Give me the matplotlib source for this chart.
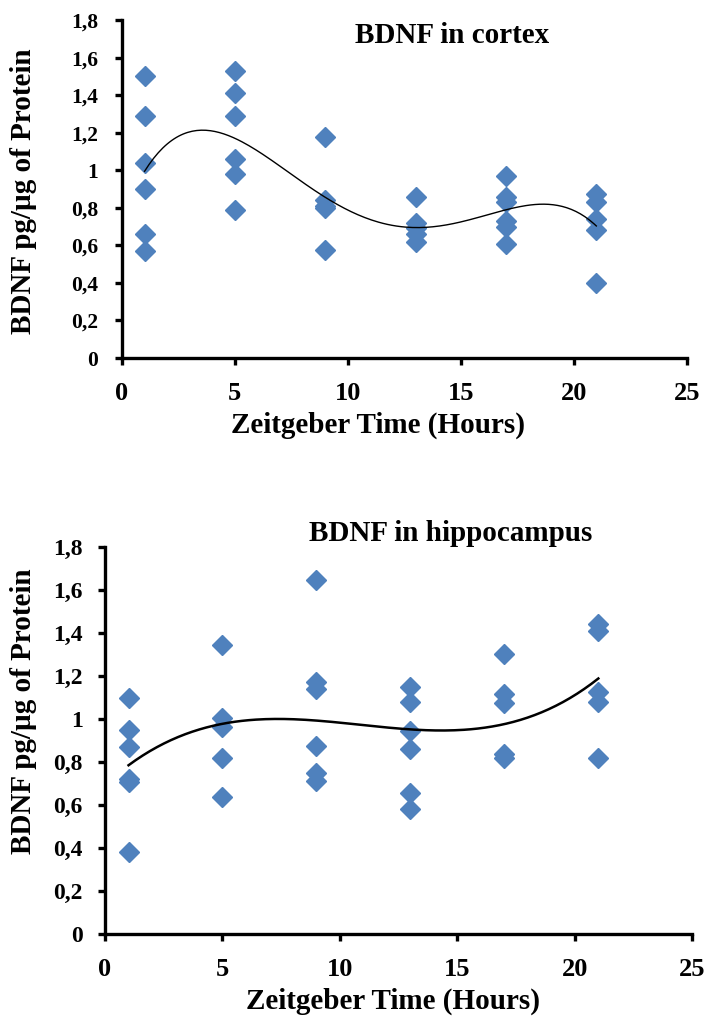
import numpy as np
import matplotlib
matplotlib.use('Agg')
import matplotlib.pyplot as plt
from matplotlib.ticker import FuncFormatter

plt.rcParams['font.family'] = ['Liberation Serif', 'DejaVu Serif']
plt.rcParams['font.weight'] = 'bold'

# Zeitgeber time points (hours)
zt = [1, 5, 9, 13, 17, 21]

# BDNF in cortex (pg/ug protein), one list per time point
cortex = [
    [1.50, 1.29, 1.04, 0.90, 0.66, 0.57],
    [1.53, 1.41, 1.29, 1.06, 0.98, 0.79],
    [1.18, 0.84, 0.81, 0.80, 0.575],
    [0.86, 0.72, 0.69, 0.66, 0.62],
    [0.97, 0.86, 0.83, 0.73, 0.70, 0.61],
    [0.875, 0.83, 0.74, 0.68, 0.40],
]

# BDNF in hippocampus
hippo = [
    [1.095, 0.95, 0.87, 0.72, 0.705, 0.38],
    [1.345, 1.005, 0.96, 0.82, 0.635],
    [1.645, 1.17, 1.14, 0.875, 0.75, 0.71],
    [1.15, 1.08, 0.945, 0.86, 0.655, 0.58],
    [1.30, 1.115, 1.075, 0.835, 0.82],
    [1.44, 1.41, 1.125, 1.08, 0.82],
]

titles = ['BDNF in cortex', 'BDNF in hippocampus']
trend_deg = [4, 3]
y_ticks = [0, 0.2, 0.4, 0.6, 0.8, 1.0, 1.2, 1.4, 1.6, 1.8]
x_ticks = [0, 5, 10, 15, 20, 25]

blue = '#4F81BD'


def comma_fmt(v, pos):
    s = ('%.1f' % v).rstrip('0').rstrip('.')
    return s.replace('.', ',')


fig = plt.figure(figsize=(7.05, 10.27), dpi=100)
ax1 = fig.add_axes([0.173, 0.6514, 0.801, 0.329])
ax2 = fig.add_axes([0.149, 0.0906, 0.833, 0.377])

# per-panel settings: axes, data, fit degree, trend lw, ytick size, ytick pad,
# ylabel coords, xlabel coords, title pos, title va
panels = [
    (ax1, cortex, trend_deg[0], 1.0, 15.5, 12, (-0.150, 0.494), (0.453, -0.160),
     (0.584, 0.932)),
    (ax2, hippo, trend_deg[1], 1.8, 17, 11, (-0.116, 0.576), (0.490, -0.140),
     (0.588, 1.0155)),
]

for i, (ax, data, deg, tlw, ysz, ypad, ylc, xlc, tpos) in enumerate(panels):
    xs = np.concatenate([[t] * len(v) for t, v in zip(zt, data)])
    ys = np.concatenate(data)
    # polynomial trendline, as in the spreadsheet original
    coef = np.polyfit(xs, ys, deg)
    xx = np.linspace(zt[0], zt[-1], 200)
    ax.plot(xx, np.polyval(coef, xx), color='black', lw=tlw, zorder=3)
    ax.plot(xs, ys, linestyle='none', marker='D', ms=10, color=blue,
            mec=blue, zorder=2)

    ax.set_xlim(0, 25)
    ax.set_ylim(0, 1.8)
    ax.set_xticks(x_ticks)
    ax.set_yticks(y_ticks)
    ax.yaxis.set_major_formatter(FuncFormatter(comma_fmt))
    for s in ['top', 'right']:
        ax.spines[s].set_visible(False)
    for s in ['left', 'bottom']:
        ax.spines[s].set_linewidth(2.4)
    ax.tick_params(width=2.4, length=5)
    ax.tick_params(axis='x', labelsize=19, pad=12)
    ax.tick_params(axis='y', labelsize=ysz, pad=ypad)
    for lab in ax.get_xticklabels() + ax.get_yticklabels():
        lab.set_fontweight('bold')
    ax.set_xlabel('Zeitgeber Time (Hours)', fontsize=21, fontweight='bold')
    ax.set_ylabel('BDNF pg/\u00b5g of Protein', fontsize=21,
                  fontweight='bold')
    ax.yaxis.set_label_coords(*ylc)
    ax.xaxis.set_label_coords(*xlc)
    ax.text(tpos[0], tpos[1], titles[i], transform=ax.transAxes, fontsize=21,
            fontweight='bold', ha='center', va='baseline')

fig.savefig('out.png', dpi=100)
